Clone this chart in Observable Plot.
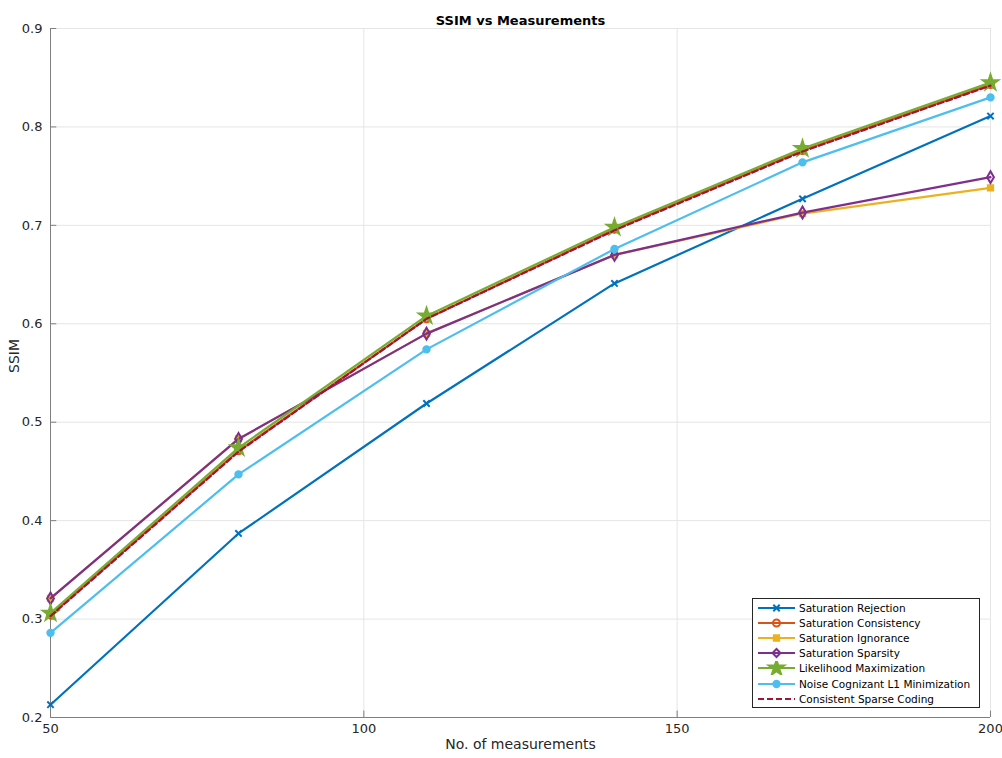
<!DOCTYPE html>
<html>
<head>
<meta charset="utf-8">
<script src="https://cdn.jsdelivr.net/npm/d3@7"></script>
<script src="https://cdn.jsdelivr.net/npm/@observablehq/plot@0.6"></script>
<style>
  html, body { margin: 0; padding: 0; background: #fff; }
  #wrap { position: relative; width: 1002px; height: 758px; font-family: "DejaVu Sans", sans-serif; }
  #legend { position: absolute; left: 752px; top: 598px; width: 228px; height: 110px;
            border: 1px solid #262626; background: #fff; box-sizing: border-box; }
  .entry { position: absolute; left: 3px; height: 15px; display: flex; align-items: center; font-size: 10.5px; color: #000; white-space: nowrap; }
  .entry svg { margin-right: 3px; flex: none; }
</style>
</head>
<body>
<div id="wrap"></div>
<script>
const measurements = [50, 80, 110, 140, 170, 200];
const satRejection   = [0.213, 0.387, 0.519, 0.641, 0.727, 0.811];
const satConsistency = [0.304, 0.471, 0.605, 0.696, 0.776, 0.843];
const satIgnorance   = [0.321, 0.483, 0.590, 0.670, 0.712, 0.738];
const satSparsity    = [0.321, 0.483, 0.590, 0.670, 0.713, 0.749];
const likelihoodMax  = [0.306, 0.474, 0.608, 0.698, 0.778, 0.845];
const noiseCognizant = [0.286, 0.447, 0.574, 0.676, 0.764, 0.830];
const consSparseCode = [0.303, 0.470, 0.605, 0.695, 0.775, 0.842];
const xTicks = [50, 100, 150, 200];
const yTicks = [0.2, 0.3, 0.4, 0.5, 0.6, 0.7, 0.8, 0.9];
const xGrid = [100, 150, 200];
const yGrid = [0.3, 0.4, 0.5, 0.6, 0.7, 0.8, 0.9];

const series = [
  {name: "Saturation Rejection", values: satRejection, color: "#0072BD", symbol: "times", fill: "none", r: 3, dash: null},
  {name: "Saturation Consistency", values: satConsistency, color: "#D95319", symbol: "circle", fill: "none", r: 3.5, dash: null},
  {name: "Saturation Ignorance", values: satIgnorance, color: "#EDB120", symbol: "square", fill: "#EDB120", r: 3, dash: null},
  {name: "Saturation Sparsity", values: satSparsity, color: "#7E2F8E", symbol: "diamond", fill: "none", r: 3.6, dash: null},
  {name: "Likelihood Maximization", values: likelihoodMax, color: "#77AC30", symbol: "star", fill: "#77AC30", r: 4.8, dash: null},
  {name: "Noise Cognizant L1 Minimization", values: noiseCognizant, color: "#4DBEEE", symbol: "circle", fill: "#4DBEEE", r: 3.2, dash: null},
  {name: "Consistent Sparse Coding", values: consSparseCode, color: "#A2142F", symbol: null, fill: "none", r: 0, dash: "6,3"}
];

const marks = [
  Plot.ruleX(xGrid, {stroke: "#e5e5e5", strokeWidth: 1}),
  Plot.ruleY(yGrid, {stroke: "#e5e5e5", strokeWidth: 1}),
  Plot.ruleX([50], {stroke: "#7f7f7f", strokeWidth: 1}),
  Plot.ruleY([0.2], {stroke: "#7f7f7f", strokeWidth: 1}),
  Plot.ruleX(xTicks, {y1: 0.2, y2: 0.2065, stroke: "#7f7f7f"}),
  Plot.ruleY(yTicks, {x1: 50, x2: 51.0, stroke: "#7f7f7f"}),
  Plot.axisX(xTicks, {tickSize: 0, tickPadding: 6, fontSize: 13, color: "#262626", label: null}),
  Plot.axisY(yTicks, {tickSize: 0, tickPadding: 8, fontSize: 13, color: "#262626", label: null, tickFormat: d => String(d)}),
  Plot.text(["No. of measurements"], {frameAnchor: "bottom", dy: 31, fontSize: 14, fill: "#262626"}),
  Plot.text(["SSIM"], {frameAnchor: "left", dx: -36, rotate: -90, fontSize: 14, fill: "#262626"}),
  Plot.text(["SSIM vs Measurements"], {frameAnchor: "top", dy: -13, fontSize: 13, fontWeight: "bold", fill: "#000"})
];
for (const s of series) {
  const data = measurements.map((m, i) => ({x: m, y: s.values[i]}));
  marks.push(Plot.line(data, {x: "x", y: "y", stroke: s.color, strokeWidth: 2.2, strokeDasharray: s.dash}));
  if (s.symbol) {
    marks.push(Plot.dot(data, {x: "x", y: "y", symbol: s.symbol, r: s.r, stroke: s.color, strokeWidth: 2, fill: s.fill}));
  }
}

const chart = Plot.plot({
  width: 1002,
  height: 758,
  marginLeft: 50,
  marginRight: 12,
  marginTop: 28,
  marginBottom: 41,
  style: {fontFamily: "DejaVu Sans, sans-serif", background: "#fff"},
  x: {domain: [50, 200], axis: null},
  y: {domain: [0.2, 0.9], axis: null},
  marks
});
const wrap = document.getElementById("wrap");
wrap.appendChild(chart);

const legend = document.createElement("div");
legend.id = "legend";
series.forEach((s, i) => {
  const e = document.createElement("div");
  e.className = "entry";
  e.style.top = (1.5 + i * 15.1) + "px";
  const svg = d3.create("svg").attr("width", 40).attr("height", 14);
  svg.append("line").attr("x1", 2).attr("x2", 39).attr("y1", 7).attr("y2", 7)
    .attr("stroke", s.color).attr("stroke-width", 2.2).attr("stroke-dasharray", s.dash);
  if (s.symbol) {
    const sym = {times: d3.symbolTimes, circle: d3.symbolCircle, square: d3.symbolSquare, diamond: d3.symbolDiamond2, star: d3.symbolStar}[s.symbol];
    const size = Math.PI * s.r * s.r;
    svg.append("path").attr("d", d3.symbol(sym, size)()).attr("transform", "translate(20.5,7)")
      .attr("stroke", s.color).attr("stroke-width", 2).attr("fill", s.fill);
  }
  e.appendChild(svg.node());
  const t = document.createElement("span");
  t.textContent = s.name;
  e.appendChild(t);
  legend.appendChild(e);
});
wrap.appendChild(legend);
</script>
</body>
</html>
